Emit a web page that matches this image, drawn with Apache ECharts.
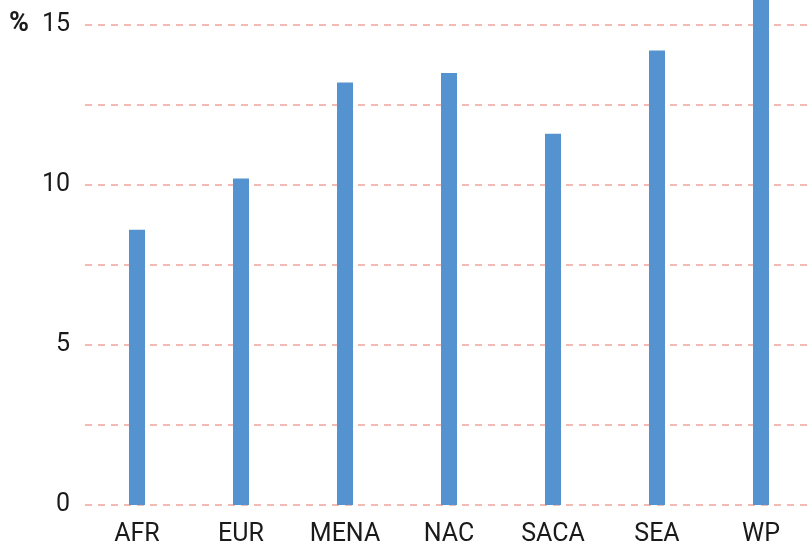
<!DOCTYPE html>
<html>
<head>
<meta charset="utf-8">
<script src="https://cdn.jsdelivr.net/npm/echarts@6/dist/echarts.min.js"></script>
<style>html,body{margin:0;padding:0;background:#fff;}#c{width:808px;height:545px;}</style>
</head>
<body>
<div id="c"></div>
<script>
const categories = ['AFR', 'EUR', 'MENA', 'NAC', 'SACA', 'SEA', 'WP'];
const values = [8.6, 10.2, 13.2, 13.5, 11.6, 14.2, 16.5];
const yLabels = [0, 5, 10, 15];
const unitLabel = '%';

const chart = echarts.init(document.getElementById('c'), null, {renderer: 'canvas'});
chart.setOption({
  animation: false,
  backgroundColor: '#ffffff',
  grid: {left: 85, right: -5, top: -135, bottom: 40, containLabel: false, outerBoundsMode: 'none'},
  graphic: [{
    type: 'text', left: 9, top: 11,
    style: {text: unitLabel, font: 'bold 27px Roboto', fill: '#1a1a1a'}
  }],
  xAxis: {
    type: 'category', data: categories, boundaryGap: true,
    axisLine: {show: false}, axisTick: {show: false},
    axisLabel: {fontFamily: 'Roboto', fontWeight: 'normal', fontSize: 25, color: '#1a1a1a', margin: 17, interval: 0}
  },
  yAxis: {
    type: 'value', min: 0, max: 20, interval: 2.5,
    axisLine: {show: false}, axisTick: {show: false},
    axisLabel: {
      fontFamily: 'Roboto', fontWeight: 'normal', fontSize: 25, color: '#1a1a1a', margin: 15,
      formatter: v => yLabels.indexOf(v) >= 0 ? String(v) : ''
    },
    splitLine: {show: true, lineStyle: {color: '#f0a39a', type: [7, 6], width: 1.5}}
  },
  series: [{
    type: 'bar', data: values, barWidth: 16,
    itemStyle: {color: '#5593d0'}
  }]
});
</script>
</body>
</html>
